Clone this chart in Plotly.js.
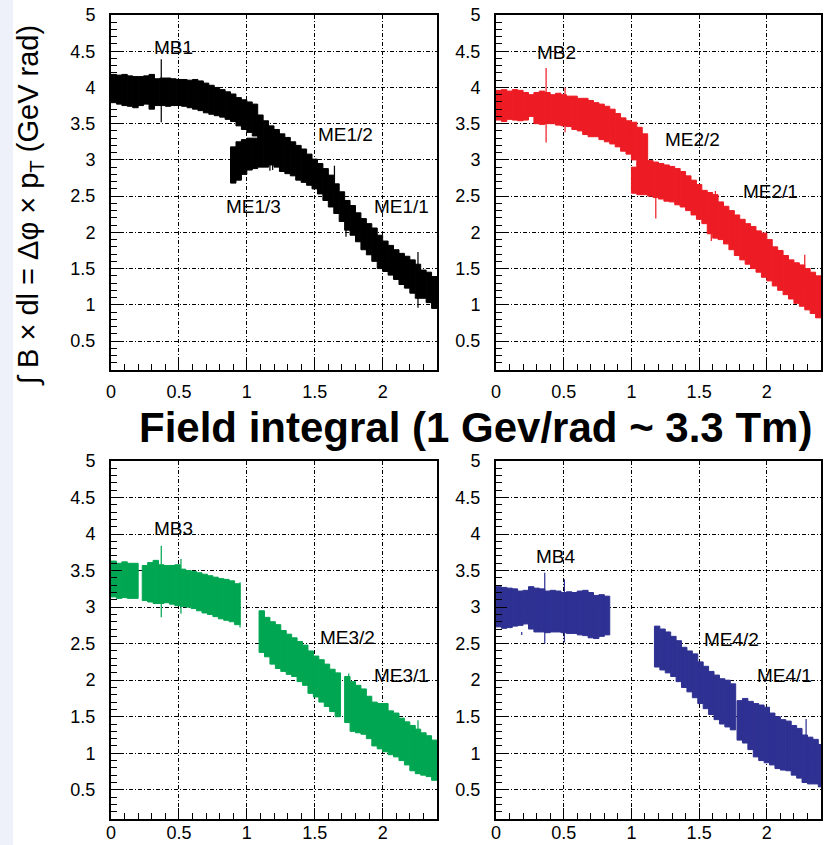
<!DOCTYPE html>
<html><head><meta charset="utf-8">
<script src="https://cdn.plot.ly/plotly-3.0.1.min.js"></script>
<style>html,body{margin:0;padding:0;background:#fff}#chart{width:832px;height:845px}</style>
</head><body><div id="chart"></div>
<script>
// ---------------- DATA ----------------
const binWidth = 0.04;
const xTickVals = [0, 0.5, 1, 1.5, 2];
const xTickText = ["0", "0.5", "1", "1.5", "2"];
const yTickVals = [0.5, 1, 1.5, 2, 2.5, 3, 3.5, 4, 4.5, 5];
const yTickText = ["0.5", "1", "1.5", "2", "2.5", "3", "3.5", "4", "4.5", "5"];

// Station 1 (black)
const mb1Start = 0.00;
const mb1Hi = [4.18,4.17,4.18,4.16,4.15,4.15,4.16,4.18,4.12,4.13,4.13,4.12,4.11,4.11,4.10,4.11,4.09,4.06,4.03,4.00,3.97,3.94,3.91,3.86,3.83,3.80,3.77];
const mb1Lo = [3.79,3.77,3.75,3.74,3.72,3.75,3.77,3.70,3.75,3.75,3.74,3.75,3.75,3.74,3.72,3.70,3.68,3.65,3.63,3.61,3.59,3.56,3.53,3.47,3.42,3.38,3.33];
const me12Start = 1.08;
const me12Hi = [3.62,3.54,3.47,3.42,3.36,3.31,3.25,3.20,3.15,3.08,3.01,2.95,2.88,2.79,2.67,2.56,2.44];
const me12Lo = [3.28,3.20,3.10,2.90,2.84,2.81,2.78,2.72,2.69,2.65,2.60,2.53,2.44,2.35,2.26,2.15,2.03];
const me11Start = 1.76;
const me11Hi = [2.37,2.27,2.19,2.12,2.06,1.96,1.88,1.82,1.76,1.71,1.67,1.62,1.56,1.48,1.45,1.39];
const me11Lo = [1.96,1.87,1.76,1.69,1.60,1.50,1.46,1.41,1.35,1.28,1.23,1.16,1.09,1.09,1.03,0.95];
const me13Start = 0.88;
const me13Hi = [3.18,3.25,3.28,3.30,3.30,3.30,3.25,3.20,3.15];
const me13Lo = [2.68,2.72,2.80,2.86,2.88,2.90,2.90,2.93,2.95];
const spike1X  = [0.37, 1.645, 1.73, 2.26, 2.26, 1.17, 1.19];
const spike1Lo = [3.52, 2.60, 1.94, 1.50, 0.96, 2.85, 2.86];
const spike1Hi = [4.39, 2.92, 2.30, 1.73, 1.20, 3.00, 3.00];

// Station 2 (red)
const mb2Start = 0.00;
const mb2Hi = [3.96,3.97,3.95,3.97,3.96,3.93,3.90,3.93,3.95,3.93,3.90,3.92,3.90,3.88,3.88,3.85,3.85,3.82,3.79,3.77,3.74,3.70,3.64,3.58,3.54,3.52,3.45,3.36];
const mb2Lo = [3.55,3.53,3.56,3.55,3.54,3.55,3.60,3.50,3.49,3.50,3.50,3.48,3.47,3.46,3.42,3.40,3.35,3.32,3.32,3.28,3.25,3.22,3.18,3.12,3.08,3.00,2.93,2.90];
const me22Start = 1.00;
const me22Hi = [2.90,2.95,2.98,2.99,2.97,2.95,2.93,2.91,2.88,2.84,2.78,2.72,2.66,2.58,2.55];
const me22Lo = [2.54,2.52,2.52,2.50,2.48,2.46,2.43,2.42,2.38,2.35,2.30,2.24,2.18,2.12,1.98];
const me21Start = 1.60;
const me21Hi = [2.52,2.42,2.36,2.30,2.24,2.18,2.12,2.08,2.02,1.99,1.90,1.80,1.75,1.68,1.62,1.58,1.55,1.50,1.45,1.40];
const me21Lo = [1.92,1.90,1.84,1.76,1.68,1.62,1.56,1.50,1.45,1.38,1.33,1.26,1.20,1.14,1.08,1.02,0.98,0.93,0.88,0.82];
const spike2X  = [0.37, 0.51, 1.18, 1.59, 1.62, 2.28];
const spike2Lo = [3.24, 3.38, 2.19, 1.88, 2.00, 1.30];
const spike2Hi = [4.27, 4.00, 2.60, 2.30, 2.57, 1.69];

// Station 3 (green)
const mb3aStart = 0.00;
const mb3aHi = [3.63,3.60,3.62,3.60,3.60];
const mb3aLo = [3.14,3.12,3.13,3.12,3.12];
const mb3bStart = 0.23;
const mb3bHi = [3.57,3.61,3.64,3.58,3.57,3.57,3.58,3.52,3.50,3.49,3.47,3.45,3.43,3.41,3.39,3.38,3.36,3.32];
const mb3bLo = [3.09,3.07,3.05,3.05,3.06,3.04,3.02,3.01,3.00,2.98,2.95,2.92,2.90,2.87,2.84,2.82,2.80,2.76];
const me32Start = 1.09;
const me32Hi = [2.95,2.86,2.80,2.76,2.68,2.63,2.58,2.53,2.48,2.40,2.33,2.28,2.22,2.15,2.10];
const me32Lo = [2.38,2.32,2.22,2.16,2.12,2.08,2.05,1.98,1.93,1.82,1.77,1.70,1.64,1.57,1.50];
const me31Start = 1.72;
const me31Hi = [2.05,1.98,1.93,1.88,1.78,1.70,1.68,1.68,1.58,1.55,1.48,1.43,1.38,1.33,1.28,1.24,1.18];
const me31Lo = [1.42,1.30,1.28,1.26,1.20,1.10,1.06,1.02,0.98,0.95,0.90,0.84,0.76,0.72,0.70,0.68,0.63];
const spike3X  = [0.37, 0.515, 0.95, 1.75, 2.26];
const spike3Lo = [2.86, 2.91, 2.72, 1.50, 0.90];
const spike3Hi = [3.84, 3.66, 3.34, 2.09, 1.45];

// Station 4 (blue)
const mb4Start = 0.00;
const mb4Hi = [3.28,3.27,3.26,3.25,3.22,3.23,3.28,3.26,3.25,3.22,3.23,3.22,3.20,3.21,3.20,3.22,3.23,3.20,3.16,3.17,3.15];
const mb4Lo = [2.73,2.71,2.72,2.74,2.75,2.77,2.70,2.66,2.66,2.65,2.66,2.66,2.65,2.64,2.64,2.62,2.61,2.58,2.57,2.60,2.62];
const me42Start = 1.17;
const me42Hi = [2.74,2.70,2.66,2.60,2.54,2.45,2.40,2.36,2.25,2.19,2.12,2.07,2.02,2.00,1.95];
const me42Lo = [2.18,2.14,2.10,2.05,1.98,1.90,1.84,1.76,1.68,1.61,1.53,1.46,1.40,1.36,1.32];
const me41Start = 1.78;
const me41Hi = [1.72,1.75,1.71,1.68,1.66,1.63,1.55,1.50,1.46,1.44,1.38,1.34,1.25,1.22,1.19,1.12];
const me41Lo = [1.18,1.14,1.05,0.95,0.90,0.87,0.84,0.79,0.77,0.76,0.70,0.66,0.60,0.58,0.58,0.54];
const spike4X  = [0.19, 0.36, 0.505, 2.29];
const spike4Lo = [2.62, 2.50, 2.52, 0.90];
const spike4Hi = [2.66, 3.47, 3.38, 1.47];

// Labels
const labels1 = {text:["MB1","ME1/2","ME1/3","ME1/1"], x:[0.46,1.73,1.05,2.14], y:[4.55,3.35,2.36,2.36]};
const labels2 = {text:["MB2","ME2/2","ME2/1"], x:[0.45,1.45,2.03], y:[4.48,3.28,2.57]};
const labels3 = {text:["MB3","ME3/2","ME3/1"], x:[0.46,1.74,2.14], y:[4.07,2.59,2.07]};
const labels4 = {text:["MB4","ME4/2","ME4/1"], x:[0.44,1.74,2.13], y:[3.69,2.56,2.06]};

const colBlack = "#000000", colRed = "#ed1c24", colGreen = "#00a651", colBlue = "#2e3192";

// ---------------- BUILD ----------------
const traces = [];
function seg(start, hi, lo, color, ax){
  const xs = hi.map((_, i) => start + binWidth * (i + 0.5));
  traces.push({type:'bar', x: xs, base: lo, y: hi.map((h, i) => h - lo[i]),
    width: binWidth, marker:{color: color, line:{width:1, color: color}},
    xaxis: 'x' + ax, yaxis: 'y' + ax, hoverinfo:'skip', showlegend:false});
}
function spikes(xs, lo, hi, color, ax){
  traces.push({type:'bar', x: xs, base: lo, y: hi.map((h, i) => h - lo[i]),
    width: 0.009, marker:{color: color, line:{width:0}},
    xaxis: 'x' + ax, yaxis: 'y' + ax, hoverinfo:'skip', showlegend:false});
}
seg(mb1Start, mb1Hi, mb1Lo, colBlack, '');
seg(me12Start, me12Hi, me12Lo, colBlack, '');
seg(me11Start, me11Hi, me11Lo, colBlack, '');
seg(me13Start, me13Hi, me13Lo, colBlack, '');
spikes(spike1X, spike1Lo, spike1Hi, colBlack, '');
seg(mb2Start, mb2Hi, mb2Lo, colRed, '2');
seg(me22Start, me22Hi, me22Lo, colRed, '2');
seg(me21Start, me21Hi, me21Lo, colRed, '2');
spikes(spike2X, spike2Lo, spike2Hi, colRed, '2');
seg(mb3aStart, mb3aHi, mb3aLo, colGreen, '3');
seg(mb3bStart, mb3bHi, mb3bLo, colGreen, '3');
seg(me32Start, me32Hi, me32Lo, colGreen, '3');
seg(me31Start, me31Hi, me31Lo, colGreen, '3');
spikes(spike3X, spike3Lo, spike3Hi, colGreen, '3');
seg(mb4Start, mb4Hi, mb4Lo, colBlue, '4');
seg(me42Start, me42Hi, me42Lo, colBlue, '4');
seg(me41Start, me41Hi, me41Lo, colBlue, '4');
spikes(spike4X, spike4Lo, spike4Hi, colBlue, '4');

const W = 832, H = 845;
const xDomL = [111/W, 437/W], xDomR = [496/W, 821/W];
const yDomT = [1 - 370/H, 1 - 15/H], yDomB = [1 - 819/H, 1 - 461/H];
const tickFont = {family:'Liberation Sans, Arial, sans-serif', size:18, color:'#000'};
const gridDash = '4px,2px,1px,2px';

function xAx(dom, anchor, standoff){
  return {domain: dom, anchor: anchor, range:[0, 2.4], tickmode:'array', tickvals: xTickVals, ticktext: xTickText,
    ticks:'inside', ticklen:11, tickwidth:1, tickcolor:'#000',
    minor:{dtick:0.1, tick0:0, ticks:'inside', ticklen:6, tickwidth:1, tickcolor:'#000', showgrid:false},
    showgrid:true, gridcolor:'#000', gridwidth:1, griddash: gridDash,
    showline:true, linecolor:'#000', linewidth:2, mirror:true, zeroline:false,
    tickfont: tickFont, ticklabelstandoff: standoff, fixedrange:true};
}
function yAx(dom, anchor){
  return {domain: dom, anchor: anchor, range:[0.1, 5], tickmode:'array', tickvals: yTickVals, ticktext: yTickText,
    ticks:'inside', ticklen:11, tickwidth:1, tickcolor:'#000',
    minor:{dtick:0.1, tick0:0, ticks:'inside', ticklen:6, tickwidth:1, tickcolor:'#000', showgrid:false},
    showgrid:true, gridcolor:'#000', gridwidth:1, griddash: gridDash,
    showline:true, linecolor:'#000', linewidth:2, mirror:true, zeroline:false,
    tickfont: tickFont, ticklabelstandoff: 10, fixedrange:true};
}

const annotations = [];
function addLabels(lb, ax){
  lb.text.forEach((t, i) => annotations.push({text: t, x: lb.x[i], y: lb.y[i], xref:'x' + ax, yref:'y' + ax,
    showarrow:false, xanchor:'center', yanchor:'middle',
    font:{family:'Liberation Sans, Arial, sans-serif', size:19, color:'#000'}}));
}
addLabels(labels1, ''); addLabels(labels2, '2'); addLabels(labels3, '3'); addLabels(labels4, '4');

annotations.push({text:'<b>Field integral (1 Gev/rad ~ 3.3 Tm)</b>', xref:'paper', yref:'paper',
  x: 475/W, y: 1 - 427/H, xanchor:'center', yanchor:'middle', showarrow:false,
  font:{family:'Liberation Sans, Arial, sans-serif', size:42, color:'#000'}});
annotations.push({text:'∫ B × dl = Δφ × p<sub>T</sub> (GeV rad)', xref:'paper', yref:'paper',
  x: 30/W, y: 1 - 206/H, xanchor:'center', yanchor:'middle', textangle:-90, showarrow:false,
  font:{family:'Liberation Sans, Arial, sans-serif', size:29, color:'#000'}});

const layout = {
  width: W, height: H, margin:{l:0, r:0, t:0, b:0},
  paper_bgcolor:'#ffffff', plot_bgcolor:'#ffffff',
  barmode:'overlay', showlegend:false,
  xaxis: xAx(xDomL, 'y', 4), yaxis: yAx(yDomT, 'x'),
  xaxis2: xAx(xDomR, 'y2', 4), yaxis2: yAx(yDomT, 'x2'),
  xaxis3: xAx(xDomL, 'y3', -4), yaxis3: yAx(yDomB, 'x3'),
  xaxis4: xAx(xDomR, 'y4', -4), yaxis4: yAx(yDomB, 'x4'),
  annotations: annotations,
  shapes:[{type:'rect', xref:'paper', yref:'paper', x0:0, x1:13/W, y0:0, y1:1, fillcolor:'#eef0fa', line:{width:0}, layer:'below'}]
};
Plotly.newPlot('chart', traces, layout, {displayModeBar:false, staticPlot:true});
</script></body></html>
